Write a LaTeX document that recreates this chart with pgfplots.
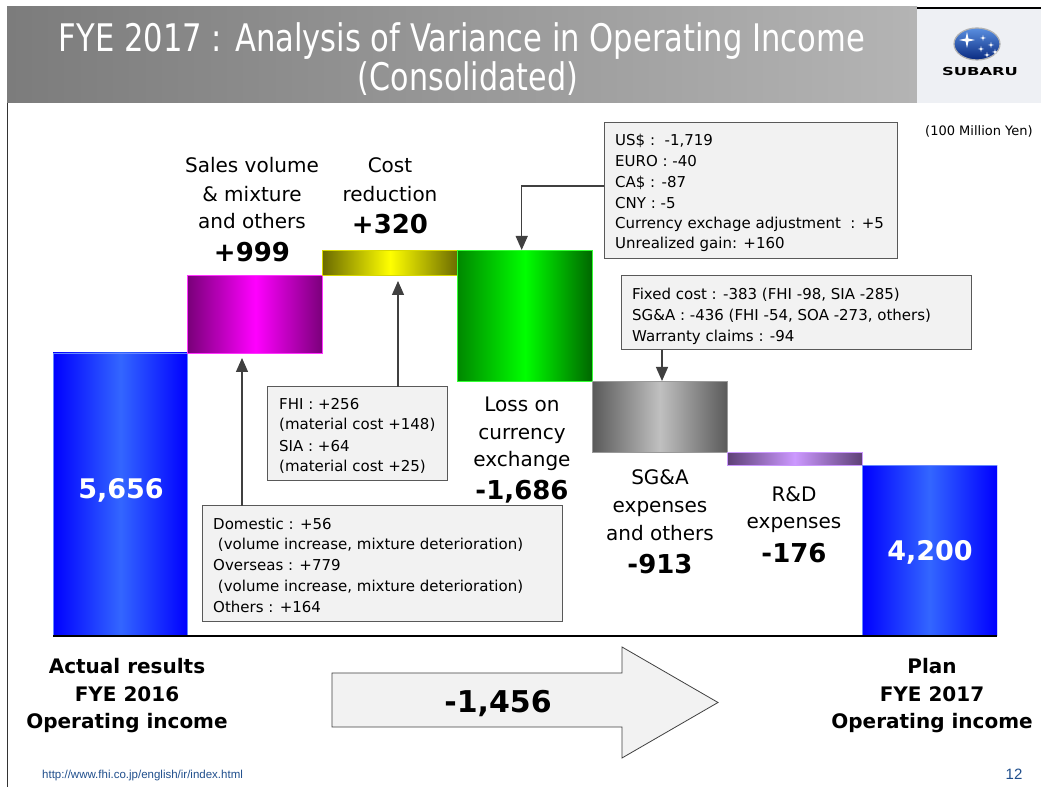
\documentclass[border=0pt]{standalone}
\usepackage{fontspec}
\setmainfont{DejaVu Sans}
\newfontfamily\urlfont{Liberation Sans}
\usepackage{graphicx}
\usepackage{pgfplots}
\pgfplotsset{compat=1.18}
\usetikzlibrary{arrows.meta}

\definecolor{bannerL}{HTML}{7C7C7C}
\definecolor{bannerR}{HTML}{B4B4B4}
\definecolor{logobg}{HTML}{EEF0F4}
\definecolor{logoT}{HTML}{5A8FE0}
\definecolor{logoB}{HTML}{0A2A80}
\definecolor{boxfill}{HTML}{F2F2F2}
\definecolor{boxdraw}{HTML}{595959}
\definecolor{arrowcol}{HTML}{404040}
\definecolor{urlblue}{HTML}{1F4E8C}
% bar colours: edge / centre / border
\definecolor{blueE}{HTML}{0000FF}\definecolor{blueM}{HTML}{3366FF}\definecolor{blueB}{HTML}{6688FF}
\definecolor{purE}{HTML}{7A007A}\definecolor{purM}{HTML}{FF00FF}\definecolor{purB}{HTML}{FF33FF}
\definecolor{yelE}{HTML}{6B6B00}\definecolor{yelM}{HTML}{FFFF00}\definecolor{yelB}{HTML}{D8D800}
\definecolor{grnE}{HTML}{008800}\definecolor{grnM}{HTML}{00FF00}\definecolor{grnR}{HTML}{006600}\definecolor{grnB}{HTML}{33FF33}
\definecolor{gryE}{HTML}{5A5A5A}\definecolor{gryM}{HTML}{C0C0C0}\definecolor{gryB}{HTML}{999999}
\definecolor{rndE}{HTML}{5E4077}\definecolor{rndM}{HTML}{CC99FF}\definecolor{rndB}{HTML}{CC99FF}

\newcommand\fs[1]{\fontsize{#1bp}{#1bp}\selectfont}
\newcommand\barlbl[3]{\node[anchor=base,inner sep=0] at (#1,#2) {\fs{20}#3};}
\newcommand\barnum[3]{\node[anchor=base,inner sep=0] at (#1,#2) {\fs{26}\bfseries #3};}
\newcommand\botlbl[3]{\node[anchor=base,inner sep=0] at (#1,#2) {\fs{20}\bfseries #3};}
\newcommand\cotext[3]{\node[anchor=base west,inner sep=0] at (#1,#2) {\fs{15}#3};}
\newcommand\logostar[3]{\fill[white,shift={(#1,#2)},scale=#3]
  (1,0) -- (0.18,0.18) -- (0,1) -- (-0.18,0.18) -- (-1,0) -- (-0.18,-0.18) -- (0,-1) -- (0.18,-0.18) -- cycle;}

\begin{document}
\begin{tikzpicture}[x=1bp,y=1bp]
\fill[white] (0,0) rectangle (1041,787);
\path[use as bounding box] (0,0) rectangle (1041,787);

% waterfall (axis in normal orientation, baseline at 787-636)
\begin{axis}[at={(53bp,151bp)}, anchor=south west, scale only axis,
  width=944bp, height=387.05bp,
  xmin=-0.5, xmax=6.5, ymin=2000, ymax=7000,
  hide axis]
\addplot[draw=blueB, line width=0.8bp, left color=blueE, right color=blueE, middle color=blueM]
  coordinates {(-0.5,0) (0.5,0) (0.5,5656) (-0.5,5656)} -- cycle;
\addplot[draw=purB, line width=0.8bp, left color=purE, right color=purE, middle color=purM]
  coordinates {(0.5,5656) (1.5,5656) (1.5,6655) (0.5,6655)} -- cycle;
\addplot[draw=yelB, line width=0.8bp, left color=yelE, right color=yelE, middle color=yelM]
  coordinates {(1.5,6655) (2.5,6655) (2.5,6975) (1.5,6975)} -- cycle;
\addplot[draw=grnB, line width=0.8bp, left color=grnE, right color=grnR, middle color=grnM]
  coordinates {(2.5,5289) (3.5,5289) (3.5,6975) (2.5,6975)} -- cycle;
\addplot[draw=gryB, line width=0.8bp, left color=gryE, right color=gryE, middle color=gryM]
  coordinates {(3.5,4376) (4.5,4376) (4.5,5289) (3.5,5289)} -- cycle;
\addplot[draw=rndB, line width=0.8bp, left color=rndE, right color=rndE, middle color=rndM]
  coordinates {(4.5,4200) (5.5,4200) (5.5,4376) (4.5,4376)} -- cycle;
\addplot[draw=blueB, line width=0.8bp, left color=blueE, right color=blueE, middle color=blueM]
  coordinates {(5.5,0) (6.5,0) (6.5,4200) (5.5,4200)} -- cycle;
\end{axis}

\begin{scope}[y=-1bp, yshift=787bp]
\draw[black, line width=1.5bp] (53,636) -- (997,636);

% title banner
\shade[left color=bannerL, right color=bannerR] (7,7) rectangle (917,103);
\fill[logobg] (917,9) rectangle (1041,103);
\draw[black, line width=2bp] (917,8) -- (1041,8);
\draw[black!80, line width=1bp] (7,103) -- (7,787);
\node[anchor=base,inner sep=0,text=white] at (462,52)
  {\fs{38}\resizebox{806bp}{\height}{FYE 2017 : Analysis of Variance in Operating Income}};
\node[anchor=base,inner sep=0,text=white] at (468,91)
  {\fs{38}\resizebox{220bp}{\height}{(Consolidated)}};

% logo
\shade[top color=logoT, bottom color=logoB] (977,44) ellipse [x radius=23bp, y radius=16bp];
\draw[gray!60, line width=1.2bp] (977,44) ellipse [x radius=23bp, y radius=16bp];
\logostar{967}{40}{8}
\logostar{983}{38}{3.2}
\logostar{991}{45}{3.2}
\logostar{981}{49}{3.2}
\logostar{995}{52}{3.2}
\logostar{987}{55}{3.2}
\node[inner sep=0] at (980,72) {\fs{11}\bfseries\resizebox{76bp}{\height}{SUBARU}};
\node[anchor=base,inner sep=0] at (979,136) {\fs{13}(100 Million Yen)};

% bar labels
\barlbl{252}{173}{Sales volume}
\barlbl{252}{201.7}{\& mixture}
\barlbl{252}{229}{and others}
\barnum{252}{261.7}{+999}
\barlbl{390}{173}{Cost}
\barlbl{390}{201.7}{reduction}
\barnum{390}{234}{+320}
\barlbl{522}{411.7}{Loss on}
\barlbl{522}{439.3}{currency}
\barlbl{522}{467}{exchange}
\barnum{522}{500}{-1,686}
\barlbl{660}{485}{SG\&A}
\barlbl{660}{512.7}{expenses}
\barlbl{660}{540.7}{and others}
\barnum{660}{573.3}{-913}
\barlbl{794}{501.7}{R\&D}
\barlbl{794}{529}{expenses}
\barnum{794}{562.7}{-176}
\node[anchor=base,inner sep=0,text=white] at (121,498.3) {\fs{27}\bfseries 5,656};
\node[anchor=base,inner sep=0,text=white] at (930,560.7) {\fs{27}\bfseries 4,200};

% callouts
\draw[boxdraw, fill=boxfill, line width=1bp] (604,123) rectangle (897,259);
\cotext{615}{145.7}{US\$ :\ \ -1,719}
\cotext{615}{166.7}{EURO : -40}
\cotext{615}{187.7}{CA\$ : -87}
\cotext{615}{208.3}{CNY : -5}
\cotext{615}{229}{Currency exchage adjustment\ \ : +5}
\cotext{615}{249}{Unrealized gain: +160}
\draw[arrowcol, line width=1.3bp, -{Triangle[width=12bp,length=14bp]}] (604,186) -- (521.7,186) -- (521.7,250);

\draw[boxdraw, fill=boxfill, line width=1bp] (621,276) rectangle (971,350);
\cotext{632}{299.3}{Fixed cost : -383 (FHI -98, SIA -285)}
\cotext{632}{320.7}{SG\&A : -436 (FHI -54, SOA -273, others)}
\cotext{632}{341.7}{Warranty claims : -94}
\draw[arrowcol, line width=1.3bp, -{Triangle[width=12bp,length=14bp]}] (662,350) -- (662,381);

\draw[boxdraw, fill=boxfill, line width=1bp] (267,387) rectangle (447,481);
\cotext{279}{409.3}{FHI : +256}
\cotext{279}{430}{(material cost +148)}
\cotext{279}{451.7}{SIA : +64}
\cotext{279}{471.7}{(material cost +25)}
\draw[arrowcol, line width=1.3bp, -{Triangle[width=12bp,length=14bp]}] (398,387) -- (398,281);

\draw[boxdraw, fill=boxfill, line width=1bp] (202,506) rectangle (562,622);
\cotext{213}{529.3}{Domestic : +56}
\cotext{213}{550}{\ (volume increase, mixture deterioration)}
\cotext{213}{571}{Overseas : +779}
\cotext{213}{592}{\ (volume increase, mixture deterioration)}
\cotext{213}{612.6}{Others : +164}
\draw[arrowcol, line width=1.3bp, -{Triangle[width=12bp,length=14bp]}] (242,506) -- (242,358);

% bottom
\botlbl{127}{674}{Actual results}
\botlbl{127}{701.7}{FYE 2016}
\botlbl{127}{729}{Operating income}
\botlbl{932}{674}{Plan}
\botlbl{932}{701.7}{FYE 2017}
\botlbl{932}{729}{Operating income}
\draw[fill=boxfill, draw=arrowcol, line width=0.8bp]
  (332,673) -- (622,673) -- (622,647) -- (718,702.5) -- (622,758) -- (622,727) -- (332,727) -- cycle;
\node[anchor=base,inner sep=0] at (498,713) {\fs{30}\bfseries -1,456};

% footer
\node[anchor=base west,inner sep=0,text=urlblue] at (42,779) {\urlfont\fs{11.5}http://www.fhi.co.jp/english/ir/index.html};
\node[anchor=base,inner sep=0,text=urlblue] at (1014,780) {\urlfont\fs{15}12};
\end{scope}
\end{tikzpicture}
\end{document}
